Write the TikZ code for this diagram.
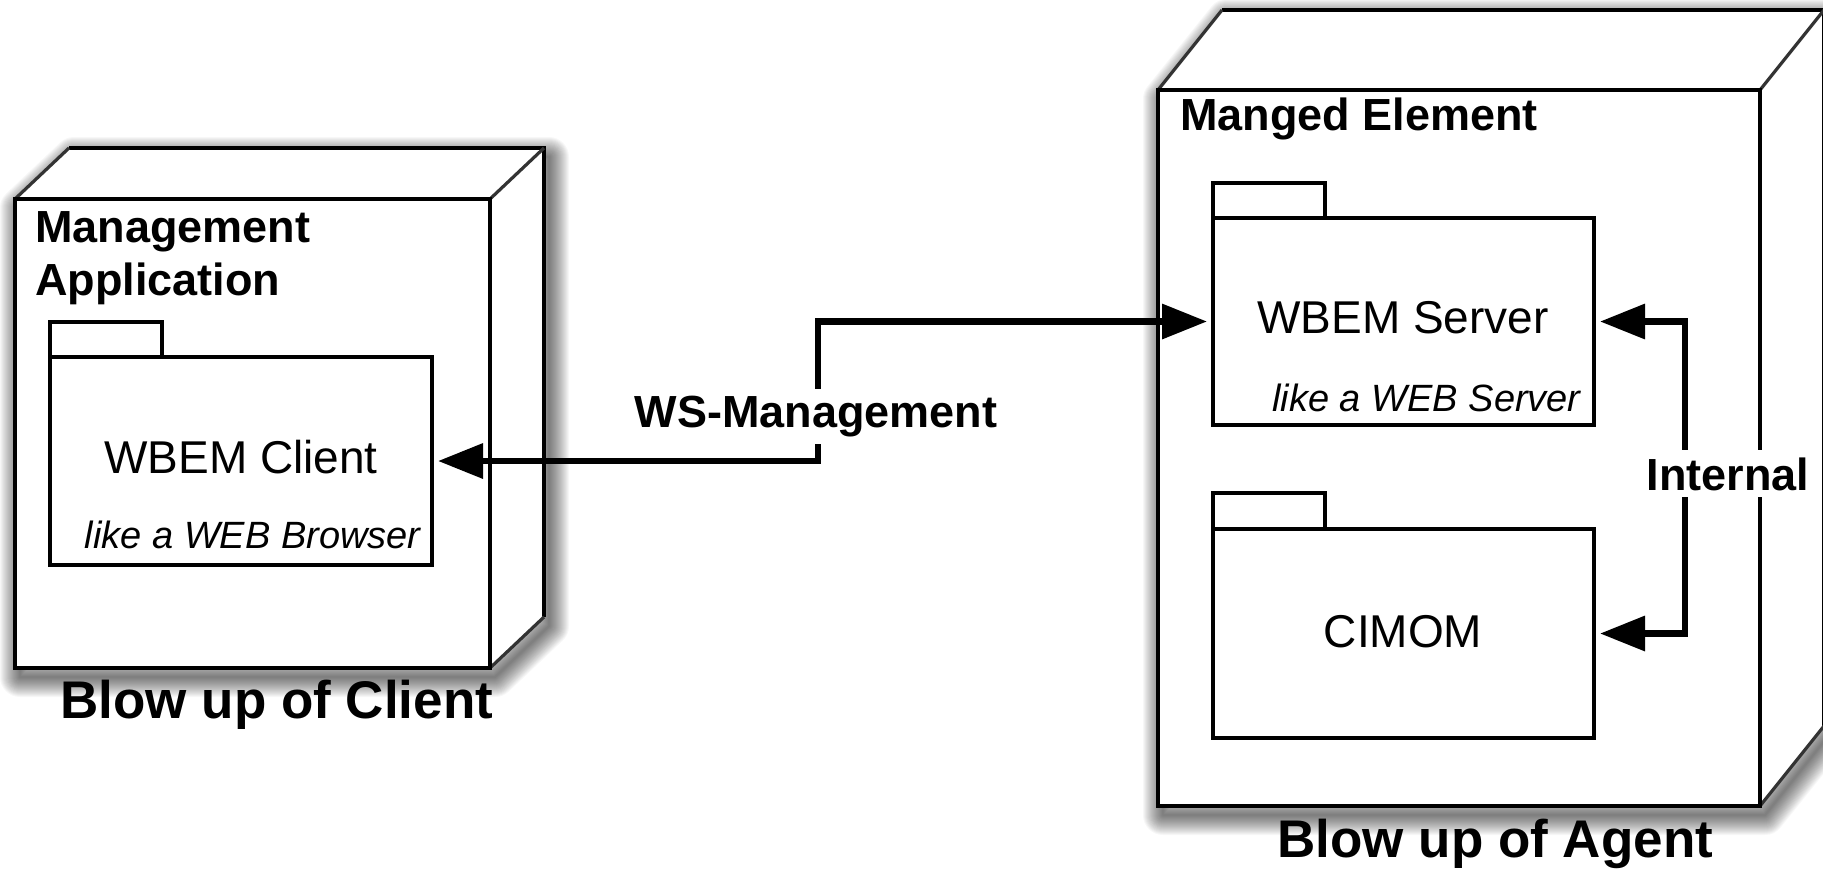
\documentclass[tikz,border=0pt]{standalone}
\usepackage{fontspec}
\setmainfont{Liberation Sans}
\usetikzlibrary{arrows.meta,calc}
\pgfdeclarelayer{paper}
\pgfdeclarelayer{shade}
\pgfsetlayers{paper,shade,main}

% soft shadow: stacked translucent strokes of growing width
\newcommand\dropshade[1]{%
  \foreach \w in {1,...,20}{\draw[line width=\w pt, draw opacity=0.03, line join=round] #1;}}

\begin{document}
\begin{tikzpicture}[x=0.5pt, y=-0.5pt,
  boxface/.style={draw, fill=white, line width=2pt, inner sep=0pt, outer sep=0pt},
  boxline/.style={line width=2pt, line join=miter},
  slant/.style={line width=1.6pt, draw=black!80},
  pkg/.style={draw, fill=white, line width=1.75pt, inner sep=0pt, outer sep=0pt},
  pkgline/.style={line width=1.75pt},
  conn/.style={line width=3.25pt, <->, >={Triangle[length=22.5pt,width=17pt]},
               shorten <=3pt, shorten >=3pt},
  nodetitle/.style={font=\fontsize{22.5}{26.5}\selectfont\bfseries, inner sep=0pt},
  blowcap/.style={font=\fontsize{26.5}{30}\selectfont\bfseries, inner sep=0pt},
  pname/.style={font=\fontsize{23}{27}\selectfont, inner sep=0pt},
  pnote/.style={font=\fontsize{19}{23}\selectfont\itshape, inner sep=0pt},
  cutout/.style={fill=white, inner sep=3.5pt, font=\fontsize{22.5}{26.5}\selectfont\bfseries},
]
\useasboundingbox (0,0) rectangle (1823,869);
\begin{pgfonlayer}{paper}
  \fill[white] (0,0) rectangle (1823,869);
\end{pgfonlayer}

% ---------- client node (3D box) ----------
\node[boxface, minimum width=237.5pt, minimum height=234.5pt] (clientbox) at (252.5,433.5) {};
\coordinate (cbtl) at ($(clientbox.north west)+(54,-51)$);
\coordinate (cbtr) at ($(clientbox.north east)+(54,-51)$);
\coordinate (cbbr) at ($(clientbox.south east)+(54,-51)$);
\begin{pgfonlayer}{shade}
  \begin{scope}[transform canvas={shift={(5,9)}}]
    \dropshade{(clientbox.north west) -- (cbtl) -- (cbtr) -- (cbbr) -- (clientbox.south east) -- (clientbox.south west) -- cycle}
  \end{scope}
\end{pgfonlayer}
\fill[white] (clientbox.north west) -- (cbtl) -- (cbtr) -- (cbbr) -- (clientbox.south east) -- (clientbox.north east) -- cycle;
\draw[boxline] (cbtl) -- (cbtr) -- (cbbr);
\draw[slant] (clientbox.north west) -- (cbtl) (clientbox.north east) -- (cbtr) (clientbox.south east) -- (cbbr);
\draw[boxline] (clientbox.north west) rectangle (clientbox.south east);

% ---------- agent node (3D box) ----------
\node[boxface, minimum width=301pt, minimum height=358pt] (agentbox) at (1459,448) {};
\coordinate (abtl) at ($(agentbox.north west)+(64,-80)$);
\coordinate (abtr) at ($(agentbox.north east)+(64,-80)$);
\coordinate (abbr) at ($(agentbox.south east)+(64,-80)$);
\begin{pgfonlayer}{shade}
  \begin{scope}[transform canvas={shift={(5,9)}}]
    \dropshade{(agentbox.north west) -- (abtl) -- (abtr) -- (abbr) -- (agentbox.south east) -- (agentbox.south west) -- cycle}
  \end{scope}
\end{pgfonlayer}
\fill[white] (agentbox.north west) -- (abtl) -- (abtr) -- (abbr) -- (agentbox.south east) -- (agentbox.north east) -- cycle;
\draw[boxline] (abtl) -- (abtr) -- (abbr);
\draw[slant] (agentbox.north west) -- (abtl) (agentbox.north east) -- (abtr) (agentbox.south east) -- (abbr);
\draw[boxline] (agentbox.north west) rectangle (agentbox.south east);

% ---------- packages ----------
\node[pkg, minimum width=191pt, minimum height=104pt] (client) at (241,461) {};
\draw[pkgline] (client.north west) -- ++(0,-35) -- ++(112,0) -- ++(0,35);
\node[pkg, minimum width=190.5pt, minimum height=103.5pt] (server) at (1403.5,321.5) {};
\draw[pkgline] (server.north west) -- ++(0,-35) -- ++(112,0) -- ++(0,35);
\node[pkg, minimum width=190.5pt, minimum height=104.5pt] (cimom) at (1403.5,633.5) {};
\draw[pkgline] (cimom.north west) -- ++(0,-36) -- ++(112,0) -- ++(0,36);

% ---------- connectors ----------
\coordinate (wsx) at (818,0);
\draw[conn] (client.east) -- (client.east -| wsx) -- (server.west -| wsx) -- (server.west);
\coordinate (inx) at (1685,0);
\draw[conn] (server.east) -- (server.east -| inx) -- (cimom.east -| inx) -- (cimom.east);

% ---------- texts ----------
\node[cutout, anchor=base] (wslabel) at (816,427) {WS-Management};
\node[cutout, anchor=base] (intlabel) at (1728,490) {Internal};

\node[nodetitle, anchor=base west] (clienttitle) at (35,242)
  {\begin{tabular}[t]{@{}l@{}}Management\\Application\end{tabular}};
\node[nodetitle, anchor=base west] (agenttitle) at (1180,130) {Manged Element};
\node[blowcap, anchor=base west] (clientcap) at (60,718) {Blow up of Client};
\node[blowcap, anchor=base west] (agentcap) at (1277,857) {Blow up of Agent};

\node[pname, anchor=base] (clientname) at (241,473) {WBEM Client};
\node[pnote, anchor=base east] (clientnote) at (421,548) {like a WEB Browser};
\node[pname, anchor=base] (servername) at (1403,333) {WBEM Server};
\node[pnote, anchor=base east] (servernote) at (1581,411) {like a WEB Server};
\node[pname, anchor=base] (cimomname) at (1403,647) {CIMOM};
\end{tikzpicture}
\end{document}
